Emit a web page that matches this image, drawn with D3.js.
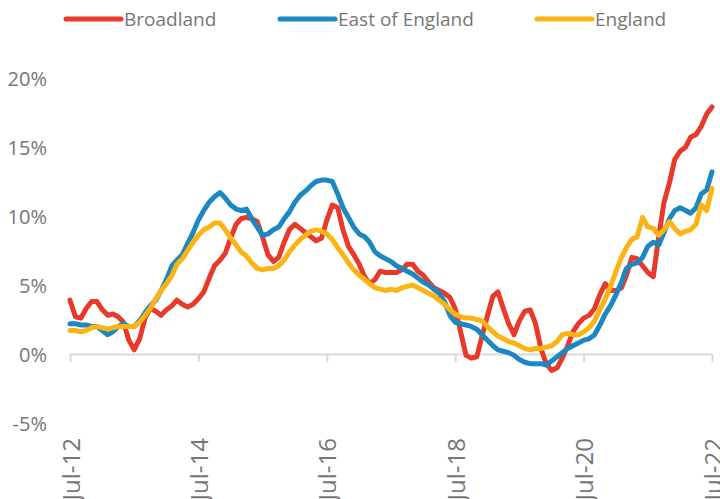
<!DOCTYPE html>
<html>
<head>
<meta charset="utf-8">
<script src="https://cdn.jsdelivr.net/npm/d3@7"></script>
<style>
    body { margin: 0; background: #fff; }
    #mainsvg text { font-family: "Open Sans", "Noto Sans", sans-serif; fill: #767676; }
</style>
</head>
<body>
<svg id="mainsvg" width="720" height="499"></svg>
<script>
// monthly, Jul-12 .. Jul-22 (121 points), % change
let seriesNames = ["Broadland", "East of England", "England"];
let seriesColors = ["#e8392a", "#1b88c1", "#fcb415"];
let tickLabels = ["Jul-12", "Jul-14", "Jul-16", "Jul-18", "Jul-20", "Jul-22"];
let yTicks = [-5, 0, 5, 10, 15, 20];

let broadland = [
    3.9, 2.7, 2.6, 3.3, 3.8, 3.8, 3.2, 2.8, 2.9, 2.7, 2.3, 1.0,
    0.3, 1.1, 2.6, 3.3, 3.1, 2.8, 3.2, 3.5, 3.9, 3.6, 3.4, 3.6,
    4.0, 4.5, 5.5, 6.4, 6.8, 7.3, 8.4, 9.4, 9.8, 9.9, 9.8, 9.6,
    8.5, 7.2, 6.7, 7.0, 8.1, 9.0, 9.4, 9.1, 8.8, 8.5, 8.2, 8.4,
    9.7, 10.8, 10.6, 9.0, 7.8, 7.2, 6.5, 5.6, 5.1, 5.4, 6.0, 5.9,
    5.9, 5.9, 6.1, 6.5, 6.5, 6.0, 5.7, 5.2, 4.8, 4.6, 4.4, 4.1,
    3.3, 1.6, -0.1, -0.3, -0.2, 1.3, 2.8, 4.2, 4.5, 3.3, 2.2, 1.4,
    2.4, 3.1, 3.2, 2.2, 0.4, -0.7, -1.2, -1.0, -0.3, 0.6, 1.6, 2.2,
    2.6, 2.8, 3.3, 4.3, 5.1, 4.6, 4.6, 4.8, 5.7, 7.0, 6.9, 6.4,
    5.9, 5.6, 8.5, 11.0, 12.4, 14.1, 14.7, 15.0, 15.7, 15.9, 16.5, 17.4,
    17.9
];
let eastOfEngland = [
    2.2, 2.2, 2.1, 2.1, 2.0, 2.0, 1.7, 1.4, 1.6, 2.0, 2.2, 2.0,
    2.0, 2.4, 3.0, 3.5, 3.9, 4.6, 5.4, 6.4, 6.8, 7.2, 8.0, 8.8,
    9.7, 10.4, 11.0, 11.4, 11.7, 11.3, 10.8, 10.5, 10.4, 10.5, 9.8, 9.2,
    8.6, 8.7, 9.0, 9.2, 9.8, 10.3, 11.0, 11.5, 11.8, 12.2, 12.5, 12.6,
    12.6, 12.5, 11.6, 10.6, 9.9, 9.2, 8.7, 8.5, 8.1, 7.4, 7.1, 6.9,
    6.7, 6.4, 6.2, 6.0, 5.8, 5.5, 5.2, 5.0, 4.7, 4.4, 3.8, 2.8,
    2.3, 2.2, 2.1, 2.0, 1.8, 1.4, 1.0, 0.6, 0.3, 0.2, 0.1, -0.1,
    -0.4, -0.6, -0.7, -0.7, -0.7, -0.8, -0.5, -0.2, 0.1, 0.4, 0.6, 0.8,
    1.0, 1.1, 1.4, 2.1, 2.9, 3.5, 4.3, 5.2, 6.2, 6.5, 6.6, 7.0,
    7.8, 8.1, 7.9, 8.8, 9.8, 10.4, 10.6, 10.4, 10.2, 10.6, 11.6, 11.9,
    13.2
];
let england = [
    1.7, 1.7, 1.6, 1.7, 1.9, 2.0, 1.9, 1.8, 1.9, 2.0, 2.0, 2.0,
    2.0, 2.3, 2.8, 3.3, 4.0, 4.6, 5.1, 5.7, 6.5, 6.9, 7.5, 8.1,
    8.6, 9.0, 9.2, 9.5, 9.5, 9.0, 8.4, 7.9, 7.4, 7.1, 6.6, 6.2,
    6.1, 6.2, 6.2, 6.4, 6.8, 7.4, 7.9, 8.3, 8.6, 8.9, 9.0, 8.9,
    8.7, 8.3, 7.7, 7.2, 6.6, 6.1, 5.7, 5.4, 5.1, 4.8, 4.7, 4.6,
    4.7, 4.6, 4.8, 4.9, 5.0, 4.8, 4.6, 4.4, 4.2, 3.9, 3.6, 3.2,
    2.9, 2.7, 2.6, 2.6, 2.5, 2.4, 2.0, 1.6, 1.3, 1.1, 0.9, 0.8,
    0.6, 0.4, 0.3, 0.4, 0.4, 0.5, 0.6, 0.9, 1.4, 1.5, 1.4, 1.4,
    1.6, 1.9, 2.4, 3.2, 4.0, 4.9, 6.0, 7.0, 7.7, 8.3, 8.5, 9.9,
    9.2, 9.1, 8.6, 9.0, 9.6, 9.1, 8.7, 8.9, 9.0, 9.4, 10.8, 10.4,
    12.0
];

let svg = d3.select("#mainsvg");
let months = d3.timeMonth.range(new Date(2012, 6, 1), new Date(2022, 7, 1));

let x = d3.scaleTime().domain([months[0], months[months.length - 1]]).range([70, 712]);
let y = d3.scaleLinear().domain([-5, 20]).range([423, 78]);

// y labels (no axis line)
let yAxis = svg.append("g").attr("transform", "translate(47,0)")
    .call(d3.axisLeft(y).tickValues(yTicks).tickSize(0).tickPadding(0).tickFormat(d => d + "%"));
yAxis.select(".domain").remove();
yAxis.selectAll("text").style("font-size", "20px").attr("dy", "0.36em");

// x axis at zero
let tickDates = tickLabels.map((d, i) => months[i * 24]);
let xAxis = svg.append("g").attr("transform", "translate(0," + y(0) + ")")
    .call(d3.axisBottom(x).tickValues(tickDates).tickSize(8).tickSizeOuter(0)
        .tickFormat((d, i) => tickLabels[i]));
xAxis.select(".domain").attr("stroke", "#d9d9d9").attr("stroke-width", 2);
xAxis.selectAll(".tick line").attr("stroke", "#d9d9d9").attr("stroke-width", 2);
xAxis.selectAll(".tick text")
    .style("font-size", "24px")
    .attr("text-anchor", "end")
    .attr("dy", null)
    .attr("y", 0)
    .attr("transform", "translate(9," + (438 - y(0)) + ") rotate(-90)");

// lines
let allSeries = [broadland, eastOfEngland, england];
let line = d3.line().x((d, i) => x(months[i])).y(d => y(d));
let lineg = svg.append("g").attr("id", "line-g");
lineg.selectAll("path").data(allSeries).enter()
    .append("path")
    .attr("d", d => line(d))
    .attr("fill", "none")
    .attr("stroke", (d, i) => seriesColors[i])
    .attr("stroke-width", 5)
    .attr("stroke-linejoin", "round")
    .attr("stroke-linecap", "round");

// legend
let legendX = [66, 280, 537];
let legend = svg.append("g").attr("id", "legend-g");
let item = legend.selectAll("g").data(seriesNames).enter()
    .append("g")
    .attr("transform", (d, i) => "translate(" + legendX[i] + ",19)");
item.append("line")
    .attr("x1", 0).attr("x2", 55).attr("y1", 0).attr("y2", 0)
    .attr("stroke", (d, i) => seriesColors[i])
    .attr("stroke-width", 5)
    .attr("stroke-linecap", "round");
item.append("text")
    .attr("x", 58).attr("dy", "0.36em")
    .style("font-size", "19px")
    .text(d => d);
</script>
</body>
</html>
